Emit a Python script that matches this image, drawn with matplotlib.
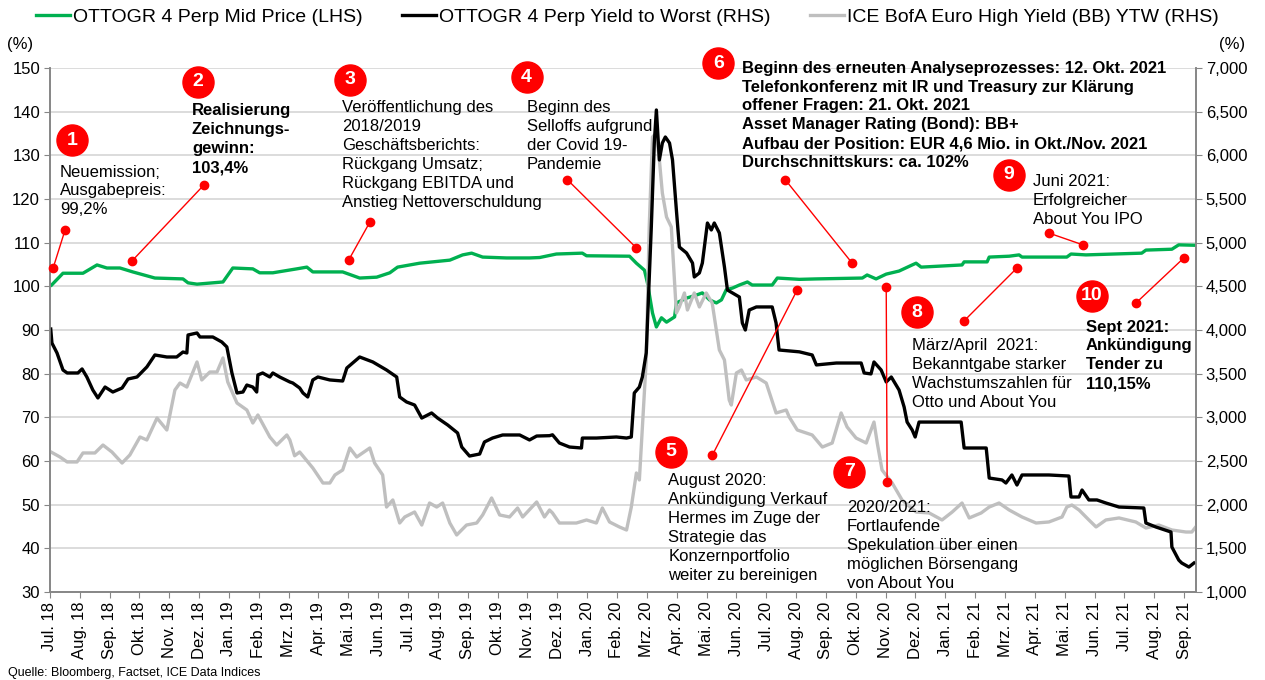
import matplotlib
matplotlib.use("Agg")
import matplotlib.pyplot as plt
from matplotlib.ticker import FuncFormatter, MultipleLocator

plt.rcParams["font.family"] = ["Liberation Sans", "DejaVu Sans"]

# Zeitachse: Monate seit Jul. 2018 (0 = Anfang Jul. 2018)
monate = ["Jul.", "Aug.", "Sep.", "Okt.", "Nov.", "Dez.",
          "Jan.", "Feb.", "Mrz.", "Apr.", "Mai.", "Jun."]
tick_labels = [f"{monate[i % 12]} {18 + (i + 6) // 12}" for i in range(39)]

# OTTOGR 4 Perp Mid Price (LHS)
gruen_t = [0.06, 0.44, 1.11, 1.58, 1.91, 2.35, 2.78, 3.52, 4.46, 4.63, 4.93, 5.80,
           6.13, 6.80, 7.03, 7.47, 8.27, 8.61, 8.81, 9.81, 10.38, 10.95, 11.39, 11.65,
           12.39, 13.40, 13.83, 14.13, 14.50, 15.30, 16.07, 16.41, 16.97, 17.84, 17.98,
           19.42, 19.65, 19.92, 20.02, 20.19, 20.32, 20.49, 20.66, 20.93, 20.99, 21.33,
           21.66, 21.86, 22.10, 22.33, 22.50, 22.66, 22.87, 23.10, 23.37, 23.53, 24.20,
           24.37, 25.11, 25.68, 27.22, 27.38, 27.68, 28.02, 28.45, 28.89, 29.02, 29.19,
           30.56, 30.63, 31.40, 31.47, 32.14, 32.47, 32.57, 33.47, 34.07, 34.21, 34.71,
           36.58, 36.72, 37.59, 37.82, 38.39]
gruen = [100.3, 103.0, 103.0, 104.9, 104.2, 104.2, 103.3, 101.9, 101.7, 100.8, 100.5, 101.0,
         104.2, 104.0, 103.1, 103.1, 104.0, 104.4, 103.3, 103.3, 101.9, 102.1, 103.1, 104.4,
         105.3, 106.0, 107.2, 107.6, 106.7, 106.5, 106.5, 106.6, 107.4, 107.6, 107.0,
         106.9, 105.3, 103.7, 100.8, 93.9, 90.7, 92.8, 91.8, 93.0, 96.2, 97.3,
         98.0, 98.5, 96.9, 96.2, 96.9, 99.2, 99.6, 100.3, 101.0, 100.3, 100.3,
         101.9, 101.6, 101.7, 101.9, 102.6, 101.7, 102.8, 103.5, 104.9, 105.3, 104.4,
         104.9, 105.6, 105.6, 106.7, 106.9, 107.2, 106.7, 106.7, 106.7, 107.4, 107.2,
         107.6, 108.3, 108.5, 109.5, 109.4]

# OTTOGR 4 Perp Yield to Worst (RHS)
schwarz_t = [0.03, 0.07, 0.24, 0.44, 0.58, 0.94, 1.08, 1.24, 1.44, 1.61, 1.85, 2.11,
             2.42, 2.62, 2.92, 3.25, 3.52, 3.92, 4.25, 4.46, 4.59, 4.63, 4.93, 5.03,
             5.46, 5.76, 5.93, 6.10, 6.27, 6.47, 6.60, 6.80, 6.93, 6.97, 7.13, 7.37,
             7.47, 7.70, 8.04, 8.14, 8.37, 8.48, 8.64, 8.81, 8.98, 9.38, 9.81, 9.95,
             10.38, 10.82, 11.28, 11.62, 11.72, 11.95, 12.22, 12.46, 12.79, 12.99, 13.33,
             13.66, 13.80, 14.06, 14.40, 14.56, 14.83, 15.17, 15.74, 16.07, 16.31, 16.74,
             16.84, 17.07, 17.41, 17.81, 17.84, 18.31, 18.98, 19.32, 19.48, 19.58, 19.75,
             19.85, 19.98, 20.15, 20.25, 20.32, 20.42, 20.52, 20.62, 20.76, 20.86, 20.99,
             21.09, 21.33, 21.53, 21.59, 21.76, 21.86, 22.03, 22.16, 22.26, 22.43, 22.60,
             22.70, 22.87, 23.10, 23.20, 23.30, 23.43, 23.67, 24.20, 24.33, 24.43, 25.11,
             25.54, 25.68, 26.35, 27.18, 27.28, 27.51, 27.61, 27.85, 28.02, 28.19, 28.45,
             28.62, 28.72, 28.89, 28.99, 29.12, 30.53, 30.63, 31.37, 31.47, 31.90, 32.03,
             32.23, 32.40, 32.57, 33.47, 34.14, 34.21, 34.48, 34.58, 34.81, 35.08, 35.38,
             35.82, 36.65, 36.72, 37.05, 37.56, 37.59, 37.82, 37.92, 38.16, 38.33]
schwarz = [4011, 3851, 3737, 3542, 3508, 3508, 3554, 3462, 3313, 3222, 3347, 3290,
           3336, 3439, 3462, 3577, 3714, 3691, 3691, 3748, 3737, 3943, 3966, 3920,
           3920, 3863, 3806, 3508, 3279, 3290, 3370, 3347, 3290, 3485, 3508, 3462,
           3508, 3462, 3405, 3393, 3336, 3279, 3233, 3428, 3462, 3428, 3416, 3565,
           3691, 3634, 3542, 3462, 3233, 3176, 3141, 2992, 3050, 2992, 2912,
           2821, 2660, 2557, 2580, 2718, 2763, 2798, 2798, 2741, 2786, 2790,
           2800, 2706, 2660, 2649, 2763, 2763, 2775, 2763, 2775, 3279, 3347,
           3462, 3737, 5180, 6141, 6519, 5947, 6141, 6210, 6141, 5947, 5374,
           4950, 4882, 4767, 4607, 4653, 4767, 5225, 5145, 5225, 5111, 4722,
           4458, 4424, 4378, 4080, 4000, 4229, 4264, 4264, 4080, 3771, 3750,
           3714, 3600, 3622, 3622, 3508, 3497, 3634, 3542, 3405, 3462, 3313,
           3118, 2946, 2855, 2775, 2946, 2946, 2649, 2649, 2305, 2283, 2248,
           2340, 2225, 2340, 2340, 2328, 2088, 2088, 2168, 2054, 2054, 2019,
           1973, 1962, 1790, 1745, 1687, 1515, 1366, 1332, 1286, 1332]

# ICE BofA Euro High Yield (BB) YTW (RHS)
grau_t = [0.04, 0.34, 0.58, 0.91, 1.11, 1.51, 1.78, 2.08, 2.42, 2.68, 3.02, 3.25,
          3.59, 3.92, 4.19, 4.36, 4.59, 4.93, 5.09, 5.36, 5.60, 5.80, 5.96, 6.27,
          6.60, 6.80, 6.97, 7.37, 7.60, 7.94, 8.04, 8.20, 8.37, 8.81, 9.15, 9.38,
          9.55, 9.81, 10.05, 10.28, 10.72, 10.88, 11.15, 11.28, 11.49, 11.72, 11.89,
          12.22, 12.46, 12.72, 12.96, 13.16, 13.40, 13.63, 13.96, 14.30, 14.50, 14.80,
          15.07, 15.40, 15.67, 15.84, 16.31, 16.57, 16.74, 16.84, 17.07, 17.64, 17.98,
          18.31, 18.51, 18.75, 19.08, 19.32, 19.48, 19.65, 19.75, 19.85, 19.98, 20.08,
          20.19, 20.32, 20.42, 20.52, 20.66, 20.82, 20.92, 20.99, 21.09, 21.26, 21.36,
          21.59, 21.76, 21.99, 22.19, 22.43, 22.60, 22.76, 22.83, 23.00, 23.17, 23.33,
          23.67, 24.00, 24.33, 24.67, 24.77, 25.04, 25.54, 25.88, 26.21, 26.51, 26.71,
          27.01, 27.35, 27.61, 27.72, 27.88, 28.22, 28.55, 29.02, 29.46, 29.89, 30.23,
          30.56, 30.80, 31.20, 31.47, 31.80, 32.14, 32.57, 33.04, 33.47, 33.91, 34.07,
          34.24, 34.48, 34.81, 35.05, 35.38, 35.82, 36.38, 36.72, 37.15, 37.59, 38.06,
          38.26, 38.39]
grau = [2603, 2546, 2489, 2489, 2592, 2592, 2683, 2603, 2477, 2569, 2775, 2741,
        2992, 2855, 3313, 3393, 3347, 3634, 3428, 3519, 3519, 3680, 3405, 3164,
        3084, 2935, 3027, 2775, 2683, 2798, 2741, 2560, 2603, 2420, 2248, 2248,
        2340, 2397, 2649, 2546, 2649, 2477, 2340, 1973, 2054, 1790, 1859,
        1916, 1767, 2019, 1973, 2019, 1790, 1653, 1767, 1790, 1882, 2077,
        1882, 1859, 1962, 1859, 2031, 1859, 1939, 1905, 1790, 1790, 1825,
        1790, 1962, 1802, 1745, 1710, 1973, 2363, 2283, 2889, 3657, 5180,
        6210, 6256, 5947, 5569, 5294, 5180, 4607, 4195, 4264, 4424, 4229,
        4424, 4264, 4424, 4309, 3771, 3657, 3199, 3141, 3508, 3542, 3428,
        3462, 3393, 3050, 3084, 3004, 2855, 2798, 2660, 2706, 3050, 2889,
        2763, 2706, 2946, 2706, 2397, 2248, 2054, 1916, 1905, 1825, 1916,
        2019, 1848, 1905, 1973, 2019, 1939, 1859, 1790, 1802, 1859, 1973,
        1996, 1939, 1825, 1745, 1825, 1848, 1802, 1733, 1767, 1710, 1687,
        1687, 1745]

serien_namen = ["OTTOGR 4 Perp Mid Price (LHS)",
                "OTTOGR 4 Perp Yield to Worst (RHS)",
                "ICE BofA Euro High Yield (BB) YTW (RHS)"]

# Anmerkungen (Position in Monaten / LHS-Einheiten)
anmerkungen = [
    dict(nr="1", kreis=(0.74, 133.5), text_pos=(0.34, 127.9), fett=False,
         text="Neuemission;\nAusgabepreis:\n99,2%", punkte=[(0.11, 104.2), (0.51, 112.9)]),
    dict(nr="2", kreis=(4.96, 146.8), text_pos=(4.76, 141.9), fett=True,
         text="Realisierung\nZeichnungs-\ngewinn:\n103,4%", punkte=[(2.75, 105.8), (5.16, 123.2)]),
    dict(nr="3", kreis=(10.05, 147.3), text_pos=(9.78, 142.6), fett=False,
         text="Veröffentlichung des\n2018/2019\nGeschäftsberichts:\nRückgang Umsatz;\n"
              "Rückgang EBITDA und\nAnstieg Nettoverschuldung",
         punkte=[(10.01, 106.0), (10.72, 114.7)]),
    dict(nr="4", kreis=(15.97, 147.9), text_pos=(15.97, 142.6), fett=False,
         text="Beginn des\nSelloffs aufgrund\nder Covid 19-\nPandemie",
         punkte=[(17.34, 124.4), (19.65, 108.8)]),
    dict(nr="5", kreis=(20.82, 62.1), text_pos=(20.72, 57.3), fett=False,
         text="August 2020:\nAnkündigung Verkauf\nHermes im Zuge der\nStrategie das\n"
              "Konzernportfolio\nweiter zu bereinigen",
         punkte=[(22.20, 61.4), (25.04, 99.2)]),
    dict(nr="6", kreis=(22.40, 151.1), text_pos=(23.20, 151.7), fett=True,
         text="Beginn des erneuten Analyseprozesses: 12. Okt. 2021\n"
              "Telefonkonferenz mit IR und Treasury zur Klärung\n"
              "offener Fragen: 21. Okt. 2021\n"
              "Asset Manager Rating (Bond): BB+\n"
              "Aufbau der Position: EUR 4,6 Mio. in Okt./Nov. 2021\n"
              "Durchschnittskurs: ca. 102%",
         punkte=[(24.64, 124.4), (26.88, 105.3)]),
    dict(nr="7", kreis=(26.78, 57.5), text_pos=(26.71, 51.1), fett=False,
         text="2020/2021:\nFortlaufende\nSpekulation über einen\nmöglichen Börsengang\nvon About You",
         punkte=[(28.05, 55.2), (28.02, 99.9)]),
    dict(nr="8", kreis=(29.06, 94.1), text_pos=(28.89, 88.1), fett=False,
         text="März/April  2021:\nBekanntgabe starker\nWachstumszahlen für\nOtto und About You",
         punkte=[(30.63, 92.1), (32.40, 104.2)]),
    dict(nr="9", kreis=(32.14, 125.5), text_pos=(32.94, 125.7), fett=False,
         text="Juni 2021:\nErfolgreicher\nAbout You IPO",
         punkte=[(33.47, 112.2), (34.61, 109.5)]),
    dict(nr="10", kreis=(34.91, 97.8), text_pos=(34.71, 92.4), fett=True,
         text="Sept 2021:\nAnkündigung\nTender zu\n110,15%",
         punkte=[(36.39, 96.2), (37.99, 106.5)]),
]

GRUEN = "#00b050"
GRAU = "#bfbfbf"
ROT = "#ff0000"
ACHSE = "#868686"

fig = plt.figure(figsize=(12.65, 6.8), dpi=100)
ax = fig.add_axes([0.0394, 0.1294, 0.9061, 0.7706])
ax2 = ax.twinx()

l1, = ax.plot(gruen_t, gruen, color=GRUEN, lw=2.4, solid_joinstyle="round")
l3, = ax2.plot(grau_t, grau, color=GRAU, lw=2.4, solid_joinstyle="round")
l2, = ax2.plot(schwarz_t, schwarz, color="black", lw=2.4, solid_joinstyle="round")

ax.set_xlim(0, 38.4)
ax.set_ylim(30, 150)
ax2.set_ylim(1000, 7000)
ax.yaxis.set_major_locator(MultipleLocator(10))
ax2.yaxis.set_major_locator(MultipleLocator(500))
ax2.yaxis.set_major_formatter(FuncFormatter(lambda v, _: f"{v:,.0f}"))

ax.set_xticks(range(len(tick_labels)))
ax.set_xticklabels(tick_labels, rotation=90, fontsize=12)
ax.tick_params(axis="y", labelsize=12, length=4, color=ACHSE, pad=3)
ax2.tick_params(axis="y", labelsize=12, length=4, color=ACHSE, pad=3)
ax.tick_params(axis="x", length=4, color=ACHSE, pad=3)

ax.yaxis.grid(True, color="#d9d9d9", lw=1.3)
ax.set_axisbelow(True)
for a in (ax, ax2):
    a.spines["top"].set_visible(False)
    for s in ("left", "right", "bottom"):
        a.spines[s].set_color(ACHSE)
        a.spines[s].set_linewidth(1.2)

# Anmerkungen oberhalb aller Linien zeichnen
for a in anmerkungen:
    (x1, y1), (x2, y2) = a["punkte"]
    ax2.plot([x1, x2], [y1, y2], color=ROT, lw=1.0, marker="o", ms=6,
             transform=ax.transData, clip_on=False, zorder=5)
    ax2.scatter([a["kreis"][0]], [a["kreis"][1]], s=500, color=ROT,
                transform=ax.transData, clip_on=False, zorder=6)
    ax2.text(a["kreis"][0], a["kreis"][1], a["nr"], color="white", fontsize=14,
             fontweight="bold", ha="center", va="center", transform=ax.transData, zorder=7)
    ax2.text(a["text_pos"][0], a["text_pos"][1], a["text"], fontsize=12,
             fontweight="bold" if a["fett"] else "normal", ha="left", va="top",
             linespacing=1.33, transform=ax.transData, zorder=7, clip_on=False)

fig.legend([l1, l2, l3], serien_namen, loc="center", bbox_to_anchor=(0.496, 0.975),
           ncol=3, frameon=False, fontsize=14, handlelength=1.75, handletextpad=0.15,
           columnspacing=2.05, borderaxespad=0)

fig.text(20 / 1265, 1 - 45 / 680, "(%)", fontsize=12, ha="center", va="center")
fig.text(1232 / 1265, 1 - 45 / 680, "(%)", fontsize=12, ha="center", va="center")
fig.text(8 / 1265, 1 - 673 / 680, "Quelle: Bloomberg, Factset, ICE Data Indices",
         fontsize=9, ha="left", va="center")

fig.savefig("out.png", dpi=100)
